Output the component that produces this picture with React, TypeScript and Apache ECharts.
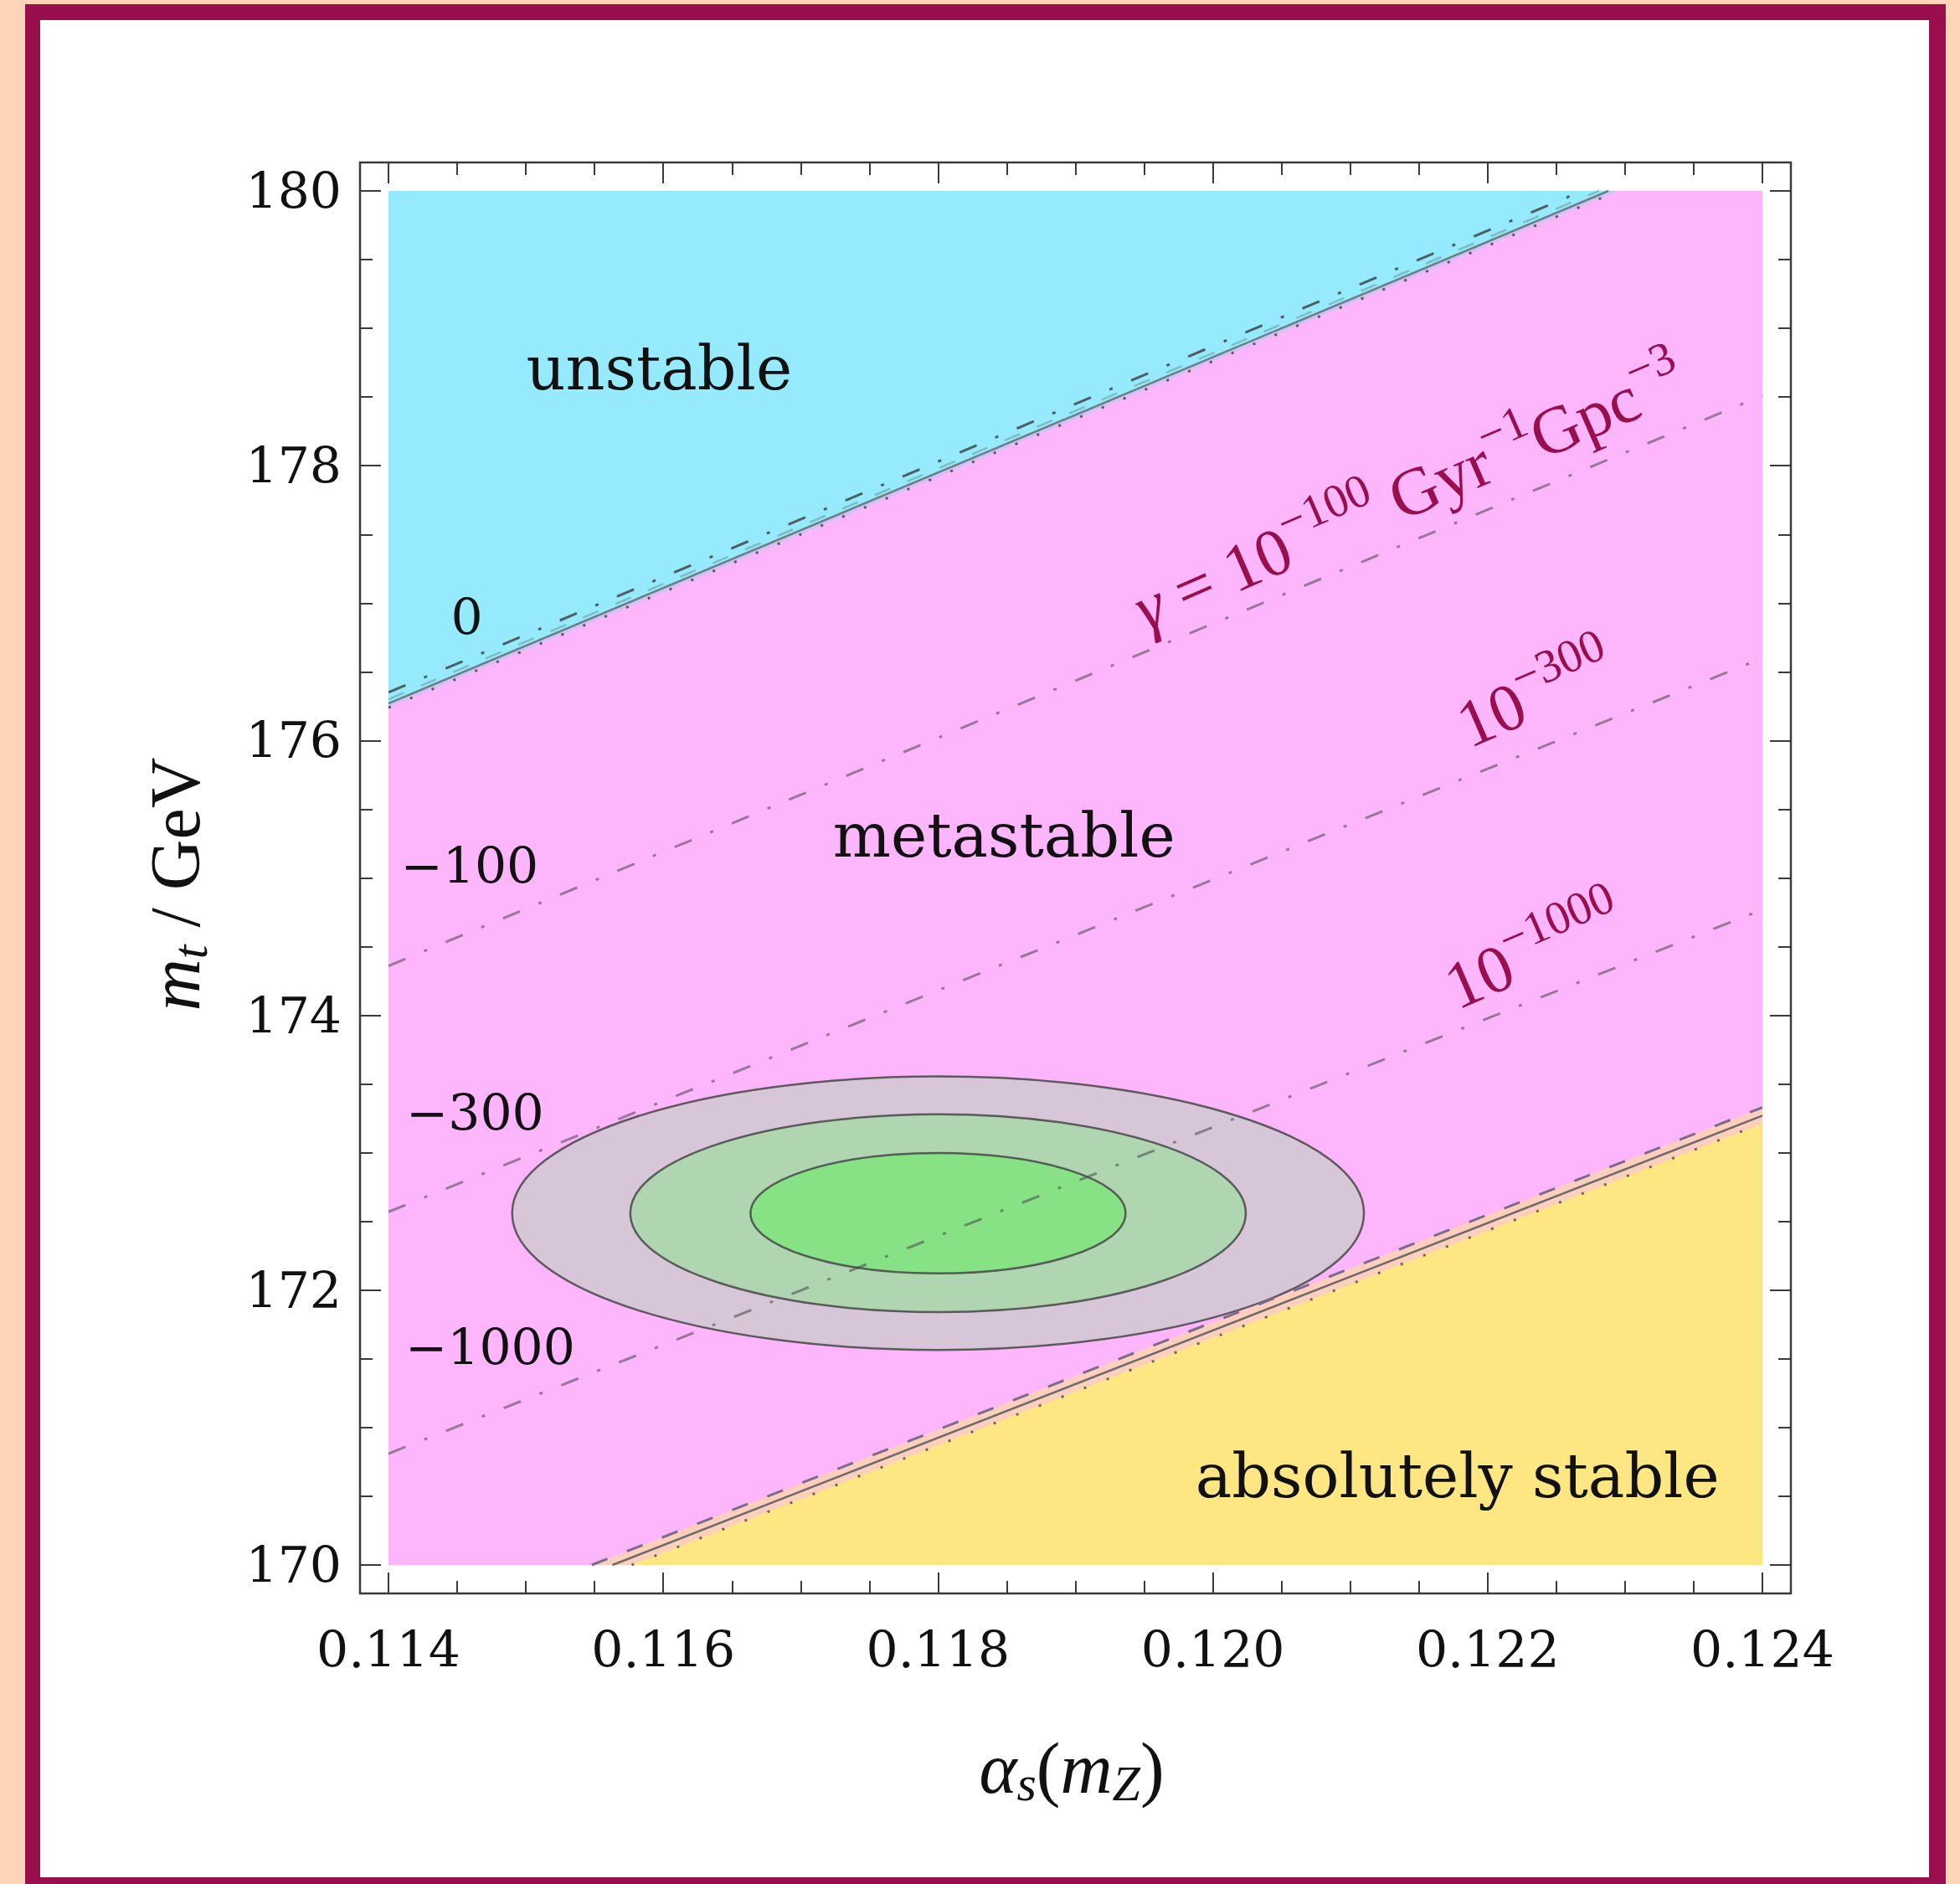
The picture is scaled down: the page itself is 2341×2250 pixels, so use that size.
import React, { useEffect, useRef } from "react";
import * as echarts from "echarts";

// ---------- axes ----------
const X_MIN = 0.114;
const X_MAX = 0.124;
const X_STEP = 0.002;
const Y_MIN = 170;
const Y_MAX = 180;
const Y_STEP = 2;

// ---------- regions (alpha_s(mZ), m_t) ----------
const unstableRegion = [[0.114, 176.27], [0.12288, 180], [0.114, 180]];
const stableRegion = [[0.11563, 170], [0.124, 173.27], [0.124, 170]];
const unstableBand = [[0.114, 176.27], [0.12288, 180], [0.12295, 180], [0.114, 176.24]];
const stableBand = [[0.11548, 170], [0.124, 173.33], [0.124, 173.215], [0.11577, 170]];

// ---------- boundary lines ----------
const upperDashDot = [[0.114, 176.35], [0.12269, 180]];
const upperDashed = [[0.114, 176.3], [0.12281, 180]];
const upperSolid = [[0.114, 176.27], [0.12288, 180]];
const upperDotted = [[0.114, 176.24], [0.12295, 180]];
const lowerDashed = [[0.11548, 170], [0.124, 173.33]];
const lowerSolid = [[0.11563, 170], [0.124, 173.27]];
const lowerDotted = [[0.11577, 170], [0.124, 173.215]];

// ---------- decay-rate contours ----------
const gamma100 = [[0.114, 174.36], [0.124, 178.51]];
const gamma300 = [[0.114, 172.57], [0.124, 176.6]];
const gamma1000 = [[0.114, 170.81], [0.124, 174.77]];

// ---------- measurement ellipses ----------
const ellipseCenter = [0.118, 172.56];
const ellipseRadii = [[0.0031, 0.995], [0.00224, 0.72], [0.001365, 0.438]];
const ellipseFills = ["#D6C6D7", "#B0D6B1", "#86E285"];

// ---------- labels ----------
const contourLabels = ["0", "\u2212100", "\u2212300", "\u22121000"];
const contourLabelPos = [[0.11457, 176.9], [0.11459, 175.09], [0.11463, 173.29], [0.11474, 171.585]];
const regionLabels = ["unstable", "metastable", "absolutely stable"];
const regionLabelPos = [[0.11597, 178.71], [0.11848, 175.31], [0.12178, 170.65]];
const rateLabelPos = [[0.12143, 177.8], [0.12235, 176.33], [0.12234, 174.46]];

const SERIF = "DejaVu Serif";
const TIMES = "Liberation Serif";
const MAROON = "#990F4E";

type Piece = { t: string; size: number; dy?: number; italic?: boolean; family?: string };

const RM = 80;
const RS = 56;
const SUP = -27;
const rateLabelPieces: Piece[][] = [
  [
    { t: "\u03b3", size: RM, italic: true },
    { t: " = 10", size: RM },
    { t: "\u2212100", size: RS, dy: SUP },
    { t: " Gyr", size: RM },
    { t: "\u22121", size: RS, dy: SUP },
    { t: "Gpc", size: RM },
    { t: "\u22123", size: RS, dy: SUP },
  ],
  [
    { t: "10", size: RM },
    { t: "\u2212300", size: RS, dy: SUP },
  ],
  [
    { t: "10", size: RM },
    { t: "\u22121000", size: RS, dy: SUP },
  ],
];

const xTitlePieces: Piece[] = [
  { t: "\u03b1", size: 86, italic: true },
  { t: "s", size: 60, italic: true, dy: 18 },
  { t: "(", size: 86 },
  { t: "m", size: 86, italic: true },
  { t: "Z", size: 60, italic: true, dy: 18 },
  { t: ")", size: 86 },
];
const yTitlePieces: Piece[] = [
  { t: "m", size: 86, italic: true },
  { t: "t", size: 60, italic: true, dy: 18 },
  { t: " / GeV", size: 84 },
];

let measureCtx: CanvasRenderingContext2D | null = null;
function textWidth(text: string, font: string) {
  if (!measureCtx) measureCtx = document.createElement("canvas").getContext("2d");
  measureCtx!.font = font;
  return measureCtx!.measureText(text).width;
}
function famOf(p: Piece) {
  return p.family || TIMES;
}
function fontOf(p: Piece) {
  return `${p.italic ? "italic " : ""}${p.size}px "${famOf(p)}"`;
}
function layoutPieces(pieces: Piece[], fill: string) {
  const ws = pieces.map((p) => textWidth(p.t, fontOf(p)));
  const total = ws.reduce((a, b) => a + b, 0);
  let x = -total / 2;
  return pieces.map((p, i) => {
    const el = {
      type: "text",
      x,
      y: p.dy || 0,
      silent: true,
      style: {
        text: p.t,
        fontSize: p.size,
        fontFamily: famOf(p),
        fontStyle: p.italic ? "italic" : "normal",
        fill,
        textAlign: "left",
        textVerticalAlign: "middle",
        align: "left",
        verticalAlign: "middle",
      },
    };
    x += ws[i];
    return el;
  });
}

function polygonSeries(points: number[][], fill: string) {
  return {
    type: "custom",
    silent: true,
    data: [points[0]],
    renderItem: (_params: any, api: any) => ({
      type: "polygon",
      shape: { points: points.map((p) => api.coord(p)) },
      style: { fill },
    }),
  };
}

function lineSeries(points: number[][], color: string, width: number, type: any) {
  return {
    type: "line",
    data: points,
    symbol: "none",
    silent: true,
    lineStyle: { color, width, type, cap: "butt" },
  };
}

function textSeries(positions: number[][], texts: string[], size: number) {
  return {
    type: "custom",
    silent: true,
    data: positions,
    renderItem: (params: any, api: any) => {
      const p = api.coord([api.value(0), api.value(1)]);
      return {
        type: "text",
        x: p[0],
        y: p[1],
        style: {
          text: texts[params.dataIndex],
          fontSize: size,
          fontFamily: SERIF,
          fill: "#111",
          textAlign: "center",
          textVerticalAlign: "middle",
          align: "center",
          verticalAlign: "middle",
        },
      };
    },
  };
}

const DASHDOT = [22, 24, 4, 24];

export default function App() {
  const ref = useRef<HTMLDivElement>(null);
  useEffect(() => {
    document.body.style.margin = "0";
    const chart = echarts.init(ref.current!, undefined, { renderer: "svg" });
    const tickLine = { color: "#3a3a3a", width: 2 };
    const baseX = {
      type: "value",
      min: X_MIN,
      max: X_MAX,
      interval: X_STEP,
      offset: 34,
      axisLine: { show: false },
      axisTick: { show: true, inside: true, length: 25, lineStyle: tickLine },
      minorTick: { show: true, splitNumber: 4, length: 15, lineStyle: tickLine },
      splitLine: { show: false },
      minorSplitLine: { show: false },
    };
    const baseY = {
      type: "value",
      min: Y_MIN,
      max: Y_MAX,
      interval: Y_STEP,
      offset: 34,
      axisLine: { show: false },
      axisTick: { show: true, inside: true, length: 25, lineStyle: tickLine },
      minorTick: { show: true, splitNumber: 4, length: 15, lineStyle: tickLine },
      splitLine: { show: false },
      minorSplitLine: { show: false },
    };
    const rateChildren = rateLabelPieces.map((p) => layoutPieces(p, MAROON));
    const ROT = (23.5 * Math.PI) / 180;

    const option: any = {
      animation: false,
      backgroundColor: "#FFD5BA",
      grid: {
        left: 464,
        top: 228,
        width: 1641,
        height: 1641,
        show: true,
        backgroundColor: "#FDB5FC",
        borderWidth: 0,
      },
      xAxis: [
        {
          ...baseX,
          position: "bottom",
          axisLabel: {
            show: true,
            margin: 37,
            fontFamily: SERIF,
            fontSize: 60,
            color: "#111",
            formatter: (v: number) => v.toFixed(3),
          },
        },
        { ...baseX, position: "top", axisLabel: { show: false } },
      ],
      yAxis: [
        {
          ...baseY,
          position: "left",
          axisLabel: {
            show: true,
            margin: 22,
            fontFamily: SERIF,
            fontSize: 60,
            color: "#111",
            formatter: (v: number) => String(v),
          },
        },
        { ...baseY, position: "right", axisLabel: { show: false } },
      ],
      graphic: {
        elements: [
          { type: "rect", z: -100, silent: true, shape: { x: 30, y: 5, width: 2294, height: 2270 }, style: { fill: MAROON } },
          { type: "rect", z: -99, silent: true, shape: { x: 48, y: 24, width: 2256, height: 2218 }, style: { fill: "#FFFFFF" } },
          {
            type: "rect",
            z: 100,
            silent: true,
            shape: { x: 430, y: 194, width: 1709, height: 1709 },
            style: { fill: "none", stroke: "#3a3a3a", lineWidth: 2.5 },
          },
          { type: "group", x: 1280, y: 2112, children: layoutPieces(xTitlePieces, "#111") },
          { type: "group", x: 209, y: 1056, rotation: Math.PI / 2, children: layoutPieces(yTitlePieces, "#111") },
        ],
      },
      series: [
        polygonSeries(unstableRegion, "#96EAFD"),
        polygonSeries(stableRegion, "#FEE782"),
        polygonSeries(unstableBand, "#CDC3F6"),
        polygonSeries(stableBand, "#FFCFBE"),
        {
          type: "custom",
          silent: true,
          data: ellipseRadii.map((r) => [ellipseCenter[0], ellipseCenter[1], r[0], r[1]]),
          renderItem: (params: any, api: any) => {
            const c = api.coord([api.value(0), api.value(1)]);
            const s = api.size([api.value(2), api.value(3)]);
            return {
              type: "ellipse",
              shape: { cx: c[0], cy: c[1], rx: s[0], ry: s[1] },
              style: { fill: ellipseFills[params.dataIndex], stroke: "rgba(70,70,70,0.85)", lineWidth: 2.5 },
            };
          },
        },
        lineSeries(upperDashDot, "rgba(60,60,60,0.8)", 3, DASHDOT),
        lineSeries(upperDashed, "#7DBDC4", 2.5, [20, 22]),
        lineSeries(upperSolid, "#6E7C84", 2.5, "solid"),
        lineSeries(upperDotted, "#5a5a5a", 3, [3, 25]),
        lineSeries(lowerDashed, "#7A6A8C", 3, [20, 25]),
        lineSeries(lowerSolid, "#6B6B6B", 2.5, "solid"),
        lineSeries(lowerDotted, "#6B6B55", 3, [3, 26]),
        lineSeries(gamma100, "rgba(70,70,70,0.55)", 3, DASHDOT),
        lineSeries(gamma300, "rgba(70,70,70,0.55)", 3, DASHDOT),
        lineSeries(gamma1000, "rgba(70,70,70,0.55)", 3, DASHDOT),
        textSeries(contourLabelPos, contourLabels, 60),
        textSeries(regionLabelPos, regionLabels, 73),
        {
          type: "custom",
          silent: true,
          data: rateLabelPos,
          renderItem: (params: any, api: any) => {
            const p = api.coord([api.value(0), api.value(1)]);
            return {
              type: "group",
              x: p[0],
              y: p[1],
              rotation: ROT,
              children: rateChildren[params.dataIndex],
            };
          },
        },
      ],
    };
    chart.setOption(option);
    return () => chart.dispose();
  }, []);
  return <div ref={ref} style={{ width: 2341, height: 2250 }} />;
}
